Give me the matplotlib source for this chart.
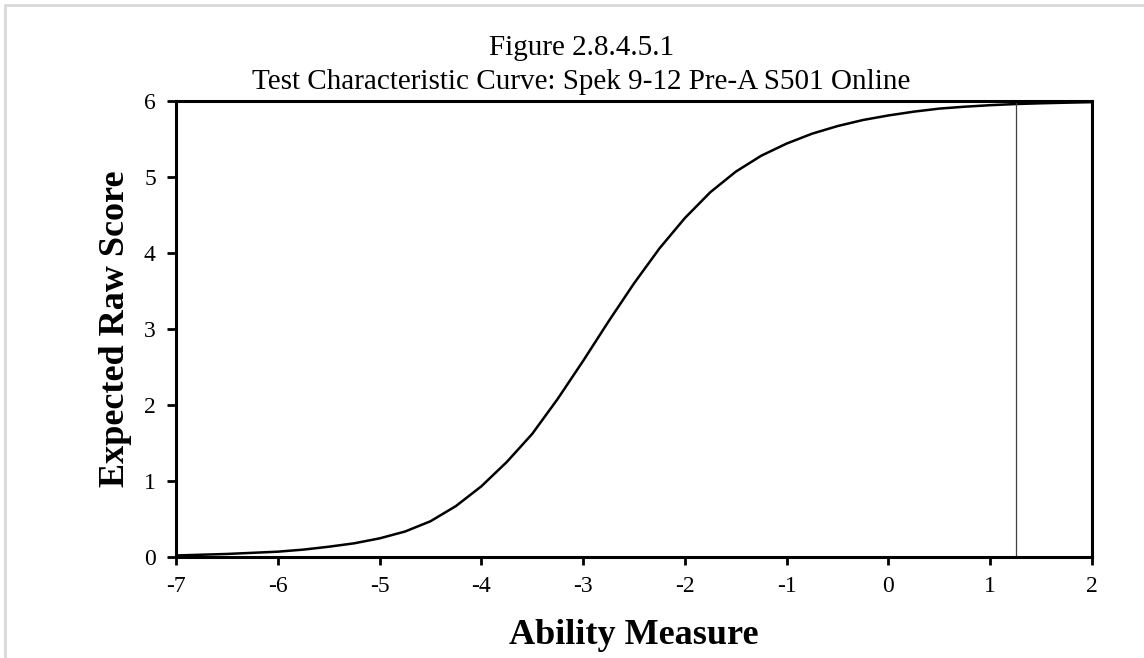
import matplotlib
matplotlib.use("Agg")
import matplotlib.pyplot as plt
from matplotlib.patches import Rectangle

plt.rcParams['font.family'] = ['Liberation Serif', 'DejaVu Serif']

# expected raw score
ability = [-7.0, -6.75, -6.5, -6.25, -6.0, -5.75, -5.5, -5.25, -5.0, -4.75,
           -4.5, -4.25, -4.0, -3.75, -3.5, -3.25, -3.0, -2.75, -2.5, -2.25,
           -2.0, -1.75, -1.5, -1.25, -1.0, -0.75, -0.5, -0.25, 0.0, 0.25,
           0.5, 0.75, 1.0, 1.25, 1.5, 1.75, 2.0]
raw_score = [0.02, 0.03, 0.04, 0.055, 0.07, 0.097, 0.135, 0.18, 0.245, 0.335,
             0.47, 0.67, 0.93, 1.25, 1.62, 2.08, 2.58, 3.1, 3.6, 4.06,
             4.46, 4.8, 5.07, 5.28, 5.44, 5.57, 5.67, 5.75, 5.81, 5.86,
             5.9, 5.925, 5.945, 5.96, 5.97, 5.978, 5.985]
marker_x = 1.25
x_ticks = [-7, -6, -5, -4, -3, -2, -1, 0, 1, 2]
y_ticks = [0, 1, 2, 3, 4, 5, 6]

fig = plt.figure(figsize=(11.44, 6.58), dpi=100)
ax = fig.add_axes([176/1144, 1 - 557/658, 916/1144, 456/658])

ax.plot(ability, raw_score, color='black', lw=1.8, solid_joinstyle='round')
ax.plot([marker_x, marker_x], [0, 6], color='#404040', lw=0.9)

ax.set_xlim(-7, 2)
ax.set_ylim(0, 6)
ax.set_xticks(x_ticks)
ax.set_yticks(y_ticks)
ax.set_xticklabels([str(v) for v in x_ticks])
ax.tick_params(axis='x', direction='out', length=5.5, width=2, labelsize=17, pad=8)
ax.tick_params(axis='y', direction='out', length=6.5, width=2, labelsize=17, pad=8)
for s in ax.spines.values():
    s.set_linewidth(2.2)

fig.text(0.508, 1 - 55/658, 'Figure 2.8.4.5.1', ha='center', va='baseline', fontsize=21)
fig.text(0.508, 1 - 89/658, 'Test Characteristic Curve: Spek 9-12 Pre-A S501 Online',
         ha='center', va='baseline', fontsize=21)
fig.text(634/1144, 1 - 644/658, 'Ability Measure', ha='center', va='baseline',
         fontsize=26, fontweight='bold')
fig.text(115/1144, 1 - 329/658, 'Expected Raw Score', ha='center', va='center',
         rotation=90, fontsize=26, fontweight='bold')

border = Rectangle((5/1144, -0.1), 1.2, 1.1 - 5.5/658, transform=fig.transFigure,
                   fill=False, edgecolor='#d9d9d9', lw=2, clip_on=False)
fig.patches.append(border)

fig.savefig('out.png', dpi=100)
